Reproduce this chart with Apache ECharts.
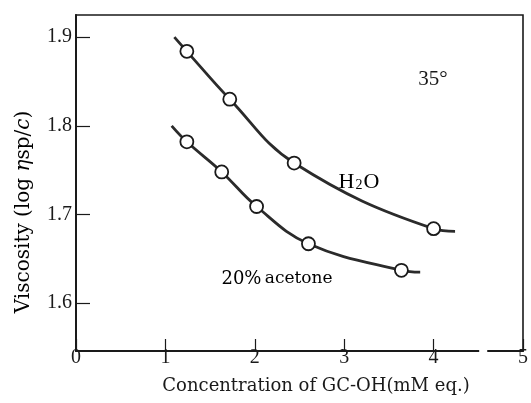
<!DOCTYPE html>
<html>
<head>
<meta charset="utf-8">
<script src="https://cdn.jsdelivr.net/npm/echarts@6/dist/echarts.min.js"></script>
<style>html,body{margin:0;padding:0;background:#fff}#c{width:531px;height:403px}</style>
</head>
<body>
<div id="c"></div>
<script>
// Data
const xTicks = [0, 1, 2, 3, 4, 5];
const yTicks = [1.6, 1.7, 1.8, 1.9];
const h2oX = [1.24, 1.72, 2.44, 4.0];
const h2oY = [1.884, 1.830, 1.758, 1.684];
const h2oCurveX = [1.1, 1.24, 1.72, 2.44, 4.0, 4.24];
const h2oCurveY = [1.9, 1.884, 1.830, 1.758, 1.684, 1.681];
const aceX = [1.24, 1.63, 2.02, 2.6, 3.64];
const aceY = [1.782, 1.748, 1.709, 1.667, 1.637];
const aceCurveX = [1.07, 1.24, 1.63, 2.02, 2.6, 3.64, 3.85];
const aceCurveY = [1.800, 1.782, 1.748, 1.709, 1.667, 1.637, 1.635];
const axisGap = [4.51, 4.60];

const zip = (a, b) => a.map((v, i) => [v, b[i]]);
const serif = "'Liberation Serif', 'DejaVu Serif', serif";
const wide = "'DejaVu Serif', 'Liberation Serif', serif";
const ink = '#1a1a1a';

const chart = echarts.init(document.getElementById('c'), null, {renderer: 'canvas'});
const lineStyle = {color: '#2b2b2b', width: 2.8};
const markerStyle = {color: '#fff', borderColor: ink, borderWidth: 1.8, opacity: 1};

chart.setOption({
  animation: false,
  backgroundColor: '#fff',
  grid: {left: 76, right: 8, top: 15, bottom: 52, outerBoundsMode: 'none', containLabel: false,
    show: true, borderColor: ink, borderWidth: 1.6, backgroundColor: 'transparent'},
  xAxis: {
    type: 'value', min: 0, max: 5,
    axisLine: {show: true, lineStyle: {color: ink, width: 2}},
    axisTick: {show: true, inside: true, length: 12, customValues: xTicks, lineStyle: {color: ink, width: 1.2}},
    axisLabel: {customValues: xTicks, color: ink, fontFamily: serif, fontSize: 20, margin: -3},
    splitLine: {show: false}
  },
  yAxis: {
    type: 'value', min: 1.546, max: 1.925,
    axisLine: {show: true, lineStyle: {color: ink, width: 2}},
    axisTick: {show: true, inside: true, length: 14, customValues: yTicks, lineStyle: {color: ink, width: 1.2}},
    axisLabel: {customValues: yTicks, color: ink, fontFamily: serif, fontSize: 20, margin: 4,
      formatter: v => v.toFixed(1)},
    splitLine: {show: false}
  },
  series: [
    {type: 'line', data: zip(h2oCurveX, h2oCurveY), smooth: 0.4, showSymbol: false, lineStyle: lineStyle, z: 2},
    {type: 'line', data: zip(aceCurveX, aceCurveY), smooth: 0.4, showSymbol: false, lineStyle: lineStyle, z: 2},
    {type: 'scatter', data: zip(h2oX, h2oY), symbol: 'circle', symbolSize: 13, itemStyle: markerStyle, z: 3},
    {type: 'scatter', data: zip(aceX, aceY), symbol: 'circle', symbolSize: 13, itemStyle: markerStyle, z: 3}
  ]
});

// gap in the x axis line, placed through the library's scale
const g0 = chart.convertToPixel({gridIndex: 0}, [axisGap[0], 1.546]);
const g1 = chart.convertToPixel({gridIndex: 0}, [axisGap[1], 1.546]);
chart.setOption({
  graphic: [
    {type: 'rect', shape: {x: g0[0], y: g0[1] - 3, width: g1[0] - g0[0], height: 6}, style: {fill: '#fff'}, z: 100},
    {type: 'text', x: 316, y: 386, style: {text: 'Concentration of GC-OH(mM eq.)', font: "18px " + wide, fill: ink, align: 'center', verticalAlign: 'middle'}},
    {type: 'text', x: 24, y: 212, rotation: Math.PI / 2, style: {
      text: '{n|Viscosity (log }{i|η}{n|sp/}{i|c}{n|)}', align: 'center', verticalAlign: 'middle',
      rich: {
        n: {fontFamily: wide, fontSize: 20, color: ink},
        i: {fontFamily: wide, fontSize: 20, fontStyle: 'italic', color: ink}
      }
    }},
    {type: 'text', x: 433, y: 79, style: {text: '35°', font: "21px " + serif, fill: ink, align: 'center', verticalAlign: 'middle'}},
    {type: 'text', x: 359, y: 182, style: {
      text: '{n|H}{s|2}{n|O}', align: 'center', verticalAlign: 'middle',
      rich: {n: {fontFamily: serif, fontSize: 22, color: ink}, s: {fontFamily: serif, fontSize: 14, color: ink, padding: [6, 1, 0, 1]}}
    }},
    {type: 'text', x: 277, y: 279, style: {
      text: '{b|20%} {n|acetone}', align: 'center', verticalAlign: 'middle',
      rich: {b: {fontFamily: wide, fontSize: 18, color: ink}, n: {fontFamily: wide, fontSize: 17, color: ink}}
    }}
  ]
});
</script>
</body>
</html>
